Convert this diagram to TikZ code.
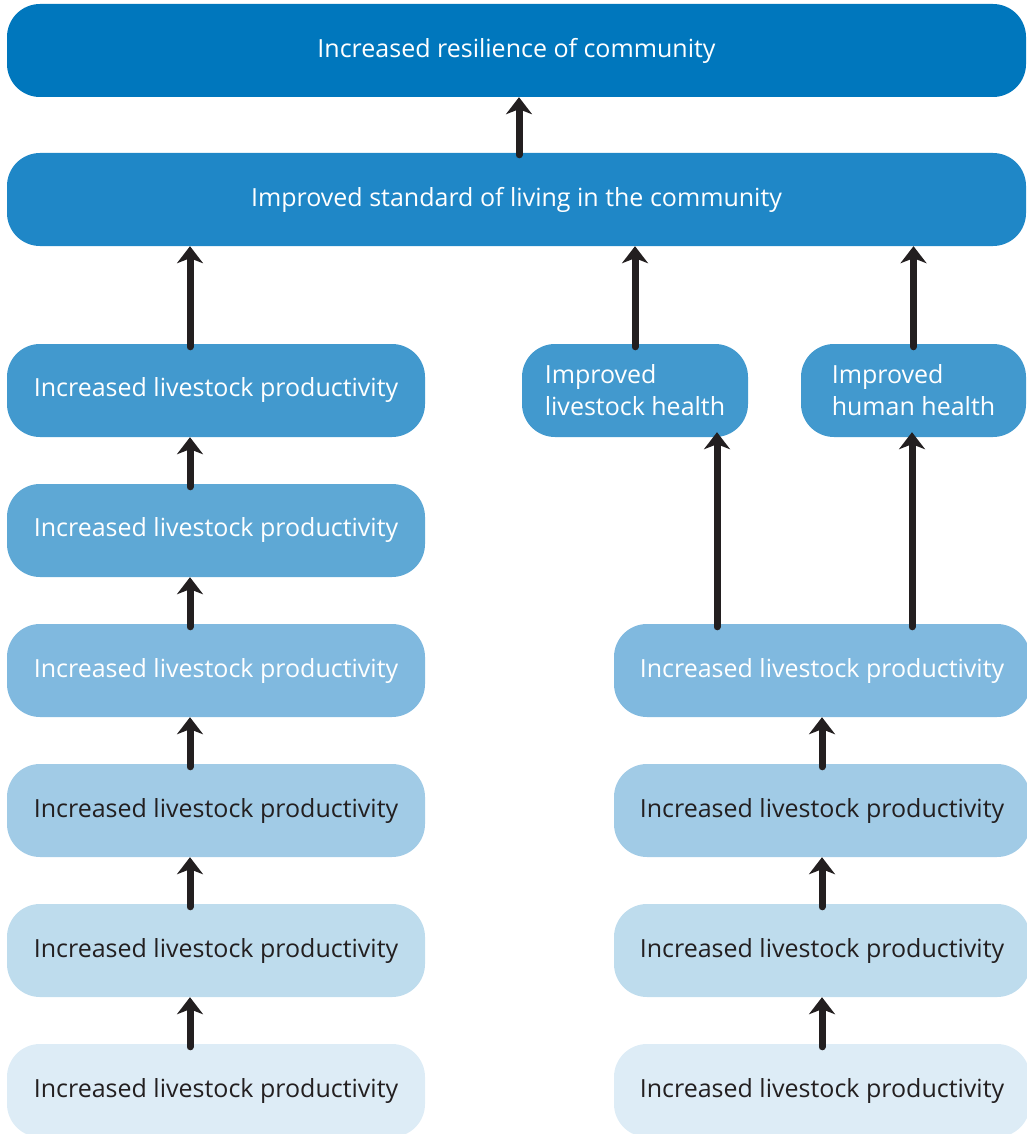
\documentclass[tikz,border=0pt]{standalone}
\usepackage{fontspec}
\setmainfont{Open Sans}
\usetikzlibrary{arrows.meta,calc}
\definecolor{cA}{HTML}{0077BD}
\definecolor{cB}{HTML}{1F87C7}
\definecolor{cC}{HTML}{4299CE}
\definecolor{cD}{HTML}{5EA8D5}
\definecolor{cE}{HTML}{80B9DF}
\definecolor{cF}{HTML}{A1CBE6}
\definecolor{cG}{HTML}{BEDCED}
\definecolor{cH}{HTML}{DDECF6}
\definecolor{ink}{HTML}{231F20}
\tikzset{
  box/.style={rounded corners=33pt, inner sep=0pt, minimum height=93pt, align=center,
    font=\fontsize{25}{32}\selectfont},
  wide/.style={box, minimum width=1019pt},
  colL/.style={box, minimum width=418pt},
  colR/.style={box, minimum width=416pt},
  small/.style={box, minimum width=226pt, align=left},
  arr/.style={line width=7pt, line cap=round, draw=ink,
    -{Stealth[length=17pt,width=26pt,inset=5pt]}}
}
\begin{document}
\begin{tikzpicture}[x=1pt,y=-1pt]
\useasboundingbox (0,0) rectangle (1027,1134);
\node[wide, fill=cA, text=white] (top) at (516.5,50.5) {Increased resilience of community};
\node[wide, fill=cB, text=white] (std) at (516.5,199.5) {Improved standard of living in the community};
\node[colL, fill=cC, text=white] (l1) at (216,390.5) {Increased livestock productivity};
\node[colL, fill=cD, text=white] (l2) at (216,530.5) {Increased livestock productivity};
\node[colL, fill=cE, text=white] (l3) at (216,670.5) {Increased livestock productivity};
\node[colL, fill=cF, text=ink] (l4) at (216,810.5) {Increased livestock productivity};
\node[colL, fill=cG, text=ink] (l5) at (216,950.5) {Increased livestock productivity};
\node[colL, fill=cH, text=ink] (l6) at (216,1090.5) {Increased livestock productivity};
\node[small, fill=cC, text=white] (lh) at (635,390.5) {Improved\\livestock health};
\node[small, fill=cC, text=white, minimum width=225pt] (hh) at (913.5,390.5) {Improved\\human health};
\node[colR, fill=cE, text=white] (r3) at (822,670.5) {Increased livestock productivity};
\node[colR, fill=cF, text=ink] (r4) at (822,810.5) {Increased livestock productivity};
\node[colR, fill=cG, text=ink] (r5) at (822,950.5) {Increased livestock productivity};
\node[colR, fill=cH, text=ink] (r6) at (822,1090.5) {Increased livestock productivity};
% arrows
\draw[arr] ([xshift=2.5pt,yshift=-2pt]std.north) -- ([xshift=2.5pt]top.south);
\draw[arr] ([xshift=-26pt,yshift=-3pt]l1.north) -- ([xshift=-26pt]l1.north |- std.south);
\draw[arr] ([yshift=-3pt]lh.north) -- (lh.north |- std.south);
\draw[arr] ([yshift=-3pt]hh.north) -- (hh.north |- std.south);
\draw[arr] ([xshift=-26pt,yshift=-3pt]l2.north) -- ([xshift=-26pt]l1.south);
\draw[arr] ([xshift=-26pt,yshift=-3pt]l3.north) -- ([xshift=-26pt]l2.south);
\draw[arr] ([xshift=-26pt,yshift=-3pt]l4.north) -- ([xshift=-26pt]l3.south);
\draw[arr] ([xshift=-26pt,yshift=-3pt]l5.north) -- ([xshift=-26pt]l4.south);
\draw[arr] ([xshift=-26pt,yshift=-3pt]l6.north) -- ([xshift=-26pt]l5.south);
\draw[arr] ([xshift=-105pt,yshift=-3pt]r3.north) -- ([xshift=-105pt,yshift=5pt]r3.north |- lh.south);
\draw[arr] ([xshift=90pt,yshift=-3pt]r3.north) -- ([xshift=90pt,yshift=5pt]r3.north |- hh.south);
\draw[arr] ([yshift=-3pt]r4.north) -- (r3.south);
\draw[arr] ([yshift=-3pt]r5.north) -- (r4.south);
\draw[arr] ([yshift=-3pt]r6.north) -- (r5.south);
\end{tikzpicture}
\end{document}
